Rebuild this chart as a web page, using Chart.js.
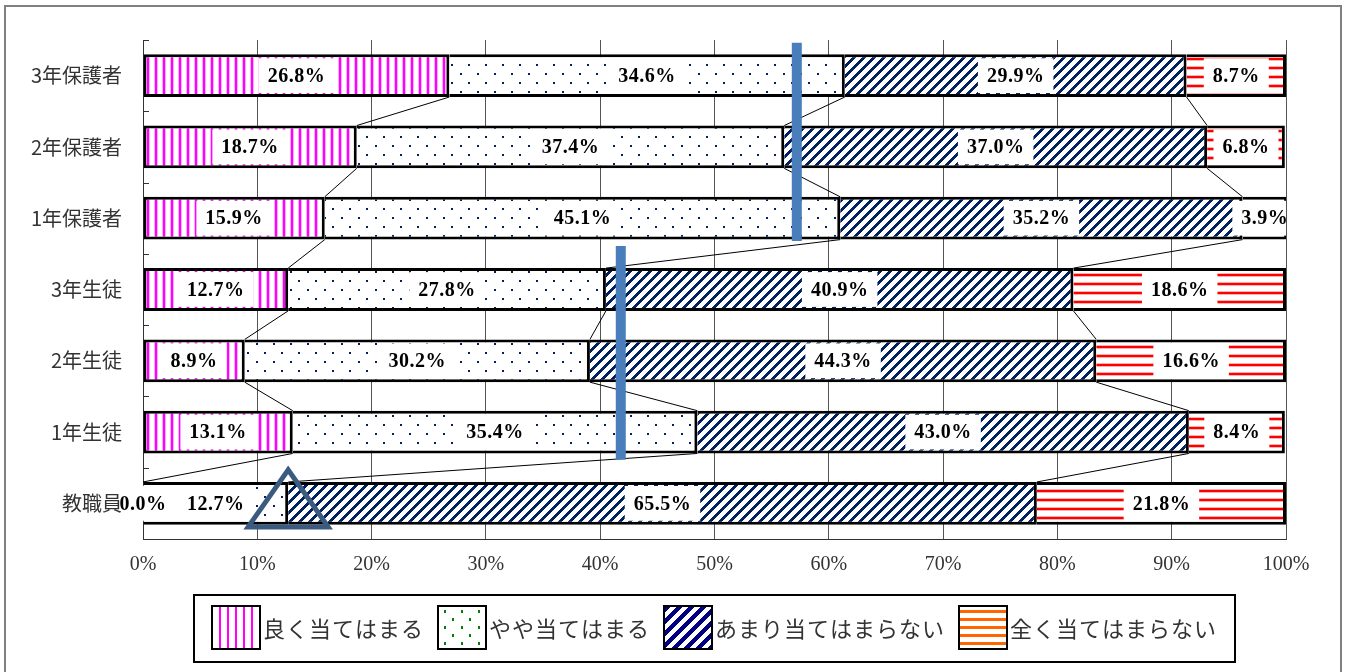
<!DOCTYPE html>
<html lang="ja">
<head>
<meta charset="utf-8">
<title>アンケート結果</title>
<script src="https://cdn.jsdelivr.net/npm/chart.js@4.4.1/dist/chart.umd.min.js"></script>
<style>
  html, body { margin: 0; padding: 0; background: #fff; }
  #chart { display: block; }
</style>
</head>
<body>
<canvas id="chart" width="1346" height="672"></canvas>
<script>
// 回答者グループと選択肢
const groups = ['3年保護者', '2年保護者', '1年保護者', '3年生徒', '2年生徒', '1年生徒', '教職員'];
const answers = ['良く当てはまる', 'やや当てはまる', 'あまり当てはまらない', '全く当てはまらない'];

// 回答割合(%)
const yokuAtehamaru      = [26.8, 18.7, 15.9, 12.7,  8.9, 13.1,  0.0];
const yayaAtehamaru      = [34.6, 37.4, 45.1, 27.8, 30.2, 35.4, 12.7];
const amariAtehamaranai  = [29.9, 37.0, 35.2, 40.9, 44.3, 43.0, 65.5];
const mattakuAtehamaranai = [ 8.7,  6.8,  3.9, 18.6, 16.6,  8.4, 21.8];
const seriesValues = [yokuAtehamaru, yayaAtehamaru, amariAtehamaranai, mattakuAtehamaranai];

// 横軸の目盛り(%)
const percentMin = 0;
const percentMax = 100;
const percentStep = 10;

// 書き込みの線と三角(横は%、縦は項目の番号)
const markerLines = [
    { value: 57.2, from: -0.46, to: 2.32 },
    { value: 41.8, from: 2.39, to: 5.39 }
];
const markerTriangle = [[12.7, 5.53], [9.2, 6.33], [16.2, 6.33]];

const canvas = document.getElementById('chart');
const mainCtx = canvas.getContext('2d');

/**
 * Build a repeating fill from a small tile
 */
function makePattern(w, h, draw) {
    const tile = document.createElement('canvas');
    tile.width = w;
    tile.height = h;
    const g = tile.getContext('2d');
    g.fillStyle = '#ffffff';
    g.fillRect(0, 0, w, h);
    draw(g);
    return mainCtx.createPattern(tile, 'repeat');
}

function diagonalTile(g, w, band, color) {
    g.fillStyle = color;
    for (let y = 0; y < w; y++) {
        for (let k = 0; k < band; k++) {
            g.fillRect((w - 1 - y + k) % w, y, 1, 1);
        }
    }
}

// bar fills
const barFills = [
    makePattern(8, 8, g => {
        g.fillStyle = '#ffb3ff';
        g.fillRect(2, 0, 4, 8);
        g.fillStyle = '#ff00ff';
        g.fillRect(3, 0, 2, 8);
    }),
    makePattern(17, 18, g => {
        g.fillStyle = '#002060';
        g.fillRect(1, 1, 2, 2);
        g.fillRect(9, 10, 2, 2);
    }),
    makePattern(10, 10, g => diagonalTile(g, 10, 4, '#002060')),
    makePattern(8, 9, g => {
        g.fillStyle = '#ffb0b0';
        g.fillRect(0, 3, 8, 4);
        g.fillStyle = '#ff0000';
        g.fillRect(0, 4, 8, 2);
    })
];

// legend fills
const legendFills = [
    makePattern(8, 8, g => {
        g.fillStyle = '#ff00ff';
        g.fillRect(3, 0, 2, 8);
    }),
    makePattern(17, 16, g => {
        g.fillStyle = '#008000';
        g.fillRect(2, 2, 2, 3);
        g.fillRect(10, 10, 2, 3);
    }),
    makePattern(12, 12, g => diagonalTile(g, 12, 6, '#000080')),
    makePattern(8, 8, g => {
        g.fillStyle = '#ff6600';
        g.fillRect(0, 2, 8, 3);
    })
];

const frame = {
    id: 'frame',
    beforeDraw(chart) {
        const ctx = chart.ctx;
        ctx.save();
        ctx.fillStyle = '#ffffff';
        ctx.fillRect(0, 0, chart.width, chart.height);
        ctx.strokeStyle = '#808080';
        ctx.lineWidth = 2;
        ctx.strokeRect(5, 6, chart.width - 10, chart.height + 10);
        ctx.restore();
    }
};

// short inward ticks on the category axis
const categoryTicks = {
    id: 'categoryTicks',
    beforeDatasetsDraw(chart) {
        const ctx = chart.ctx;
        const ys = chart.scales.y;
        const left = chart.chartArea.left;
        ctx.save();
        ctx.strokeStyle = '#333';
        ctx.lineWidth = 1;
        ctx.beginPath();
        for (let i = 0; i <= groups.length; i++) {
            const y = Math.round(ys.getPixelForValue(i - 0.5)) + 0.5;
            ctx.moveTo(left, y);
            ctx.lineTo(left + 6, y);
        }
        ctx.stroke();
        ctx.restore();
    }
};

// series lines between bars, then value labels
const barLabels = {
    id: 'barLabels',
    afterDatasetsDraw(chart) {
        const ctx = chart.ctx;
        const area = chart.chartArea;
        ctx.save();
        ctx.strokeStyle = '#000';
        ctx.lineWidth = 1;
        ctx.beginPath();
        for (let d = 0; d < seriesValues.length - 1; d++) {
            const bars = chart.getDatasetMeta(d).data;
            for (let j = 0; j < bars.length - 1; j++) {
                const a = bars[j];
                const b = bars[j + 1];
                ctx.moveTo(a.x, a.y + a.height / 2);
                ctx.lineTo(b.x, b.y - b.height / 2);
            }
        }
        ctx.stroke();

        ctx.font = 'bold 20px "Liberation Serif"';
        ctx.letterSpacing = '0.5px';
        ctx.textAlign = 'center';
        ctx.textBaseline = 'middle';
        seriesValues.forEach((values, d) => {
            chart.getDatasetMeta(d).data.forEach((bar, j) => {
                const text = values[j].toFixed(1) + '%';
                const cx = (bar.x + bar.base) / 2;
                const tw = ctx.measureText(text).width;
                const bw = tw + 18;
                const bh = bar.height - 8;
                ctx.save();
                ctx.beginPath();
                ctx.rect(area.left, area.top, area.right - area.left, area.bottom - area.top);
                ctx.clip();
                ctx.fillStyle = '#ffffff';
                ctx.fillRect(cx - bw / 2, bar.y - bh / 2, bw, bh);
                ctx.restore();
                ctx.fillStyle = '#000';
                ctx.fillText(text, cx, bar.y + 1);
            });
        });
        ctx.restore();
    }
};

const legendBox = {
    id: 'legendBox',
    afterDraw(chart) {
        const ctx = chart.ctx;
        const area = chart.chartArea;
        const boxW = 48, boxH = 43, textGap = 3, itemGap = 14, padX = 18;
        const top = area.bottom + 56;
        const height = 67;
        ctx.save();
        ctx.font = '22px "Noto Sans CJK JP"';
        ctx.letterSpacing = '1px';
        const widths = answers.map(t => ctx.measureText(t).width);
        const total = widths.reduce((s, w) => s + boxW + textGap + w, 0) + itemGap * (answers.length - 1);
        const cx = (area.left + area.right) / 2;

        ctx.strokeStyle = '#000';
        ctx.lineWidth = 2;
        ctx.strokeRect(cx - total / 2 - padX, top, total + padX * 2, height);

        let x = cx - total / 2;
        const boxY = top + (height - boxH) / 2 - 1;
        ctx.textAlign = 'left';
        ctx.textBaseline = 'middle';
        answers.forEach((label, i) => {
            ctx.fillStyle = legendFills[i];
            ctx.fillRect(x, boxY, boxW, boxH);
            ctx.strokeRect(x, boxY, boxW, boxH);
            ctx.fillStyle = '#333';
            ctx.fillText(label, x + boxW + textGap, boxY + boxH / 2 + 1);
            x += boxW + textGap + widths[i] + itemGap;
        });
        ctx.restore();
    }
};

const markers = {
    id: 'markers',
    afterDraw(chart) {
        const ctx = chart.ctx;
        const xs = chart.scales.x;
        const ys = chart.scales.y;
        ctx.save();
        ctx.strokeStyle = '#4a7ebb';
        ctx.lineWidth = 10;
        markerLines.forEach(m => {
            const x = xs.getPixelForValue(m.value);
            ctx.beginPath();
            ctx.moveTo(x, ys.getPixelForValue(m.from));
            ctx.lineTo(x, ys.getPixelForValue(m.to));
            ctx.stroke();
        });
        ctx.strokeStyle = '#3b5a80';
        ctx.lineWidth = 5;
        ctx.lineJoin = 'miter';
        ctx.beginPath();
        markerTriangle.forEach(([v, c], i) => {
            const px = xs.getPixelForValue(v);
            const py = ys.getPixelForValue(c);
            if (i === 0) ctx.moveTo(px, py); else ctx.lineTo(px, py);
        });
        ctx.closePath();
        ctx.stroke();
        ctx.restore();
    }
};

new Chart(mainCtx, {
    type: 'bar',
    data: {
        labels: groups,
        datasets: answers.map((name, i) => ({
            label: name,
            data: seriesValues[i],
            backgroundColor: barFills[i],
            borderColor: '#000',
            borderSkipped: false,
            borderWidth: { top: 3, bottom: 3, left: i === 0 ? 3 : 0, right: 3 },
            categoryPercentage: 1,
            barPercentage: 0.6
        }))
    },
    options: {
        responsive: false,
        animation: false,
        devicePixelRatio: 1,
        indexAxis: 'y',
        layout: { padding: { left: 0, right: 60, top: 40, bottom: 93 } },
        plugins: {
            legend: { display: false },
            tooltip: { enabled: false }
        },
        scales: {
            x: {
                stacked: true,
                min: percentMin,
                max: percentMax,
                ticks: {
                    stepSize: percentStep,
                    callback: v => v + '%',
                    font: { family: 'Liberation Serif', size: 20 },
                    color: '#333',
                    padding: 14
                },
                grid: { color: '#555', lineWidth: 1, drawTicks: false },
                border: { color: '#333' },
                afterFit: scale => { scale.height = 40; }
            },
            y: {
                stacked: true,
                grid: { display: false, drawTicks: false },
                border: { display: true, color: '#333' },
                ticks: {
                    font: { family: 'Noto Sans CJK JP', size: 20 },
                    color: '#333',
                    padding: 21
                },
                afterFit: scale => { scale.width = 143; }
            }
        }
    },
    plugins: [frame, categoryTicks, barLabels, legendBox, markers]
});
</script>
</body>
</html>
